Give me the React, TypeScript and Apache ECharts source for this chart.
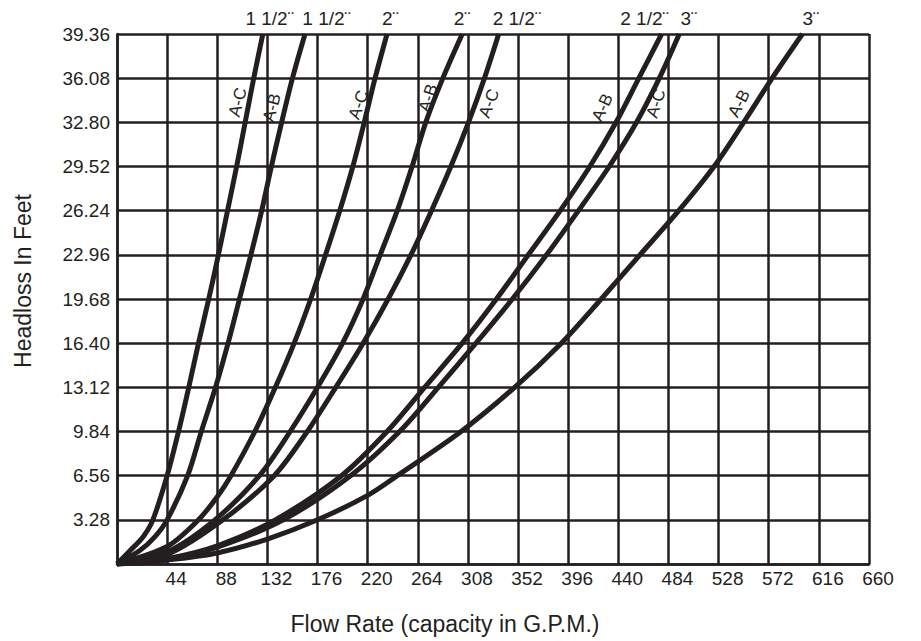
import React, { useEffect, useRef } from "react";
import * as echarts from "echarts";

// Axis ranges / ticks
const xMin = 0;
const xMax = 660;
const xStep = 44;
const yMin = 0;
const yMax = 39.36;
const yStep = 3.28;

// Curves: [flow (G.P.M.), headloss (feet)]
const curve15AC: number[][] = [[0, 0], [12, 1.04], [23, 2.03], [31.5, 3.28], [44, 6.56], [54, 9.84], [63, 13.12], [71.5, 16.4], [80.5, 19.68], [89, 22.96], [97, 26.24], [105, 29.52], [112.5, 32.8], [120, 36.08], [128, 39.36]];
const curve15AB: number[][] = [[0, 0], [20, 1.0], [33, 2.0], [44, 3.28], [62, 6.56], [74, 9.84], [86.5, 13.12], [97.5, 16.4], [107.5, 19.68], [117.5, 22.96], [127, 26.24], [135.5, 29.52], [144.5, 32.8], [154, 36.08], [165, 39.36]];
const curve2AC: number[][] = [[0, 0], [44, 1.3], [71.5, 3.28], [88, 5.0], [100, 6.56], [121, 9.84], [139, 13.12], [155.5, 16.4], [170, 19.68], [183, 22.96], [195.5, 26.24], [207, 29.52], [217, 32.8], [226.5, 36.08], [237, 39.36]];
const curve2AB: number[][] = [[0, 0], [44, 0.9], [86, 3.28], [125, 6.56], [152, 9.84], [176, 13.12], [198, 16.4], [216, 19.68], [231, 22.96], [246, 26.24], [259, 29.52], [271, 32.8], [286, 36.08], [303, 39.36]];
const curve25AC: number[][] = [[0, 0], [44, 0.7], [93, 3.28], [138, 6.56], [167, 9.84], [192, 13.12], [216, 16.4], [238, 19.68], [258, 22.96], [276, 26.24], [293, 29.52], [308.5, 32.8], [322.5, 36.08], [335, 39.36]];
const curve25AB: number[][] = [[0, 0], [44, 0.4], [88, 1.35], [139, 3.28], [197, 6.56], [237, 9.84], [270, 13.12], [303, 16.4], [333, 19.68], [361, 22.96], [389, 26.24], [415, 29.52], [438, 32.8], [458, 36.08], [478, 39.36]];
const curve3AC: number[][] = [[0, 0], [44, 0.32], [88, 1.25], [146, 3.28], [205, 6.56], [248, 9.84], [282, 13.12], [315, 16.4], [347, 19.68], [377, 22.96], [405, 26.24], [432, 29.52], [456, 32.8], [476, 36.08], [493.5, 39.36]];
const curve3AB: number[][] = [[0, 0], [44, 0.3], [88, 0.82], [132, 1.85], [176, 3.28], [220, 5.1], [246, 6.56], [302, 9.84], [349, 13.12], [390, 16.4], [425, 19.68], [459, 22.96], [493, 26.24], [524, 29.52], [550, 32.8], [575, 36.08], [601.5, 39.36]];

const curves = [curve15AC, curve15AB, curve2AC, curve2AB, curve25AC, curve25AB, curve3AC, curve3AB];

// Labels
const sizeLabels = ["1 1/2¨", "1 1/2¨", "2¨", "2¨", "2 1/2¨", "2 1/2¨", "3¨", "3¨"];
const connLabels = ["A-C", "A-B", "A-C", "A-B", "A-C", "A-B", "A-C", "A-B"];
// Annotation anchor positions (data units)
const sizeLabelX = [134, 184, 240, 303, 351, 463, 502, 609];
const connLabelPos: number[][] = [[106, 34.3], [136, 33.9], [212, 34.1], [273, 34.6], [326.5, 34.2], [426, 33.9], [473, 34.2], [546, 34.2]];
const connLabelAngle = [75, 75, 70, 72, 68, 65, 72, 63];

const xTitle = "Flow Rate (capacity in G.P.M.)";
const yTitle = "Headloss In Feet";

export default function App() {
  const ref = useRef<HTMLDivElement>(null);

  useEffect(() => {
    if (!ref.current) return;
    const chart = echarts.init(ref.current, null, { renderer: "svg" });
    const font = "'Liberation Sans', Arial, Helvetica, sans-serif";
    const ink = "#231f20";

    chart.setOption({
      animation: false,
      backgroundColor: "#ffffff",
      grid: { left: 117, right: 52, top: 34, bottom: 77, containLabel: false },
      xAxis: {
        type: "value",
        min: xMin,
        max: xMax,
        interval: xStep,
        axisLine: { show: true, lineStyle: { color: ink, width: 2.5 } },
        axisTick: { show: false },
        splitLine: { show: true, lineStyle: { color: ink, width: 2.5 } },
        axisLabel: {
          showMinLabel: false,
          showMaxLabel: true,
          color: ink,
          fontSize: 19,
          fontFamily: font,
          margin: 5,
          padding: [0, 0, 0, 18],
        },
      },
      yAxis: {
        type: "value",
        min: yMin,
        max: yMax,
        interval: yStep,
        axisLine: { show: true, lineStyle: { color: ink, width: 2.5 } },
        axisTick: { show: false },
        splitLine: { show: true, lineStyle: { color: ink, width: 2.5 } },
        axisLabel: {
          showMinLabel: false,
          showMaxLabel: true,
          color: ink,
          fontSize: 19,
          fontFamily: font,
          margin: 7,
          formatter: (v: number) => v.toFixed(2),
        },
      },
      series: curves.map((c, i) => ({
        type: "line",
        name: sizeLabels[i] + " " + connLabels[i],
        data: c,
        smooth: 0.3,
        showSymbol: false,
        symbol: "none",
        clip: true,
        lineStyle: { color: ink, width: 5 },
        z: 5,
      })),
    });

    const graphics: any[] = [];
    curves.forEach((c, i) => {
      const top = chart.convertToPixel({ gridIndex: 0 }, [sizeLabelX[i], yMax]) as number[];
      graphics.push({
        type: "text",
        x: top[0],
        y: top[1] - 16,
        z: 10,
        style: { text: sizeLabels[i], fill: ink, fontSize: 19, fontFamily: font, align: "center", verticalAlign: "middle" },
      });
      const p = chart.convertToPixel({ gridIndex: 0 }, connLabelPos[i]) as number[];
      graphics.push({
        type: "text",
        x: p[0],
        y: p[1],
        rotation: (connLabelAngle[i] * Math.PI) / 180,
        z: 10,
        style: { text: connLabels[i], fill: ink, fontSize: 17, fontFamily: font, align: "center", verticalAlign: "middle" },
      });
    });
    graphics.push({
      type: "text",
      x: 445,
      y: 624,
      style: { text: xTitle, fill: ink, fontSize: 23, fontFamily: font, align: "center", verticalAlign: "middle" },
    });
    graphics.push({
      type: "text",
      x: 23,
      y: 281,
      rotation: Math.PI / 2,
      style: { text: yTitle, fill: ink, fontSize: 23, fontFamily: font, align: "center", verticalAlign: "middle" },
    });
    chart.setOption({ graphic: graphics });

    return () => chart.dispose();
  }, []);

  return (
    <div
      ref={ref}
      style={{ position: "fixed", left: 0, top: 0, width: 921, height: 641, background: "#fff" }}
    />
  );
}
